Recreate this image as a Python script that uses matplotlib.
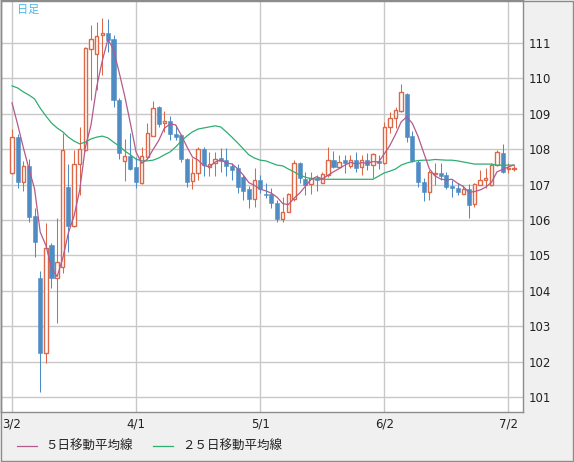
import matplotlib
matplotlib.use('Agg')
import matplotlib.pyplot as plt
import numpy as np
import pandas as pd
from matplotlib.lines import Line2D
from matplotlib.patches import Rectangle

# ---------------- data ----------------
dates = pd.bdate_range('2020-03-02', '2020-07-03')

opens = [107.33, 108.34, 107.07, 107.53, 106.10, 104.36, 102.24, 105.29, 104.36, 104.67,
         106.93, 105.83, 107.58, 107.98, 110.83, 110.69, 111.23, 111.28, 111.11, 109.39,
         107.67, 107.81, 107.50, 107.05, 107.78, 108.37, 109.19, 108.74, 108.80, 108.43,
         108.40, 107.72, 107.10, 107.33, 108.00, 107.50, 107.61, 107.75, 107.69, 107.53,
         107.47, 107.21, 106.88, 106.59, 107.13, 106.73, 106.73, 106.48, 106.03, 106.23,
         106.59, 107.61, 107.16, 107.02, 107.19, 107.05, 107.27, 107.69, 107.50, 107.69,
         107.53, 107.69, 107.50, 107.69, 107.55, 107.67, 107.61, 108.63, 108.88, 109.08,
         109.56, 108.37, 107.64, 107.07, 106.79, 107.30, 107.33, 107.27, 106.96, 106.90,
         106.73, 106.88, 106.45, 106.99, 107.13, 106.99, 107.55, 107.89, 107.44, 107.44]
highs = [108.57, 108.43, 107.67, 107.72, 106.34, 104.56, 105.92, 105.35, 106.06, 108.46,
         107.58, 107.98, 108.63, 110.90, 111.50, 111.59, 111.70, 111.68, 111.23, 109.45,
         108.29, 108.46, 107.78, 108.06, 108.74, 109.36, 109.22, 109.08, 108.94, 108.68,
         108.43, 107.75, 107.75, 108.06, 108.06, 107.92, 107.92, 108.03, 108.03, 107.61,
         107.58, 107.27, 106.96, 107.47, 107.27, 107.05, 106.90, 106.56, 106.65, 106.76,
         107.69, 107.64, 107.36, 107.36, 107.27, 107.36, 108.06, 107.95, 107.84, 107.84,
         107.84, 107.92, 107.84, 107.89, 107.89, 107.84, 108.77, 109.05, 109.19, 109.84,
         109.59, 108.51, 107.69, 107.19, 107.41, 107.61, 107.61, 107.36, 107.13, 107.05,
         107.00, 107.02, 107.05, 107.41, 107.47, 107.61, 107.98, 108.15, 107.61, 107.55]
lows = [107.30, 106.90, 106.82, 105.94, 104.95, 101.14, 101.96, 104.08, 103.09, 104.50,
        105.10, 105.80, 106.71, 107.95, 109.40, 109.67, 110.10, 110.75, 109.19, 107.72,
        107.10, 107.41, 106.90, 107.02, 107.78, 108.37, 108.63, 108.49, 108.26, 108.26,
        107.64, 106.93, 106.88, 107.13, 107.24, 107.24, 107.24, 107.36, 107.24, 107.13,
        106.76, 106.56, 106.34, 106.37, 106.76, 106.62, 106.34, 105.94, 105.94, 106.23,
        106.54, 107.05, 106.71, 106.73, 106.82, 107.05, 107.21, 107.47, 107.47, 107.33,
        107.47, 107.36, 107.27, 107.41, 107.19, 107.44, 107.58, 108.46, 108.60, 109.05,
        108.20, 107.64, 106.93, 106.54, 106.56, 106.99, 107.13, 106.88, 106.65, 106.71,
        106.73, 106.06, 106.37, 106.99, 106.90, 106.96, 107.52, 107.33, 107.33, 107.38]
closes = [108.34, 107.07, 107.53, 106.08, 105.38, 102.24, 105.21, 104.36, 104.81, 107.98,
          105.83, 107.58, 108.00, 110.86, 111.11, 111.20, 111.28, 111.08, 109.39, 107.89,
          107.81, 107.44, 107.07, 107.81, 108.46, 109.16, 108.71, 108.80, 108.43, 108.34,
          107.72, 107.07, 107.33, 108.00, 107.55, 107.58, 107.72, 107.67, 107.53, 107.41,
          106.93, 106.82, 106.59, 107.13, 106.88, 106.70, 106.48, 106.03, 106.23, 106.73,
          107.61, 107.19, 106.99, 107.19, 107.13, 107.30, 107.69, 107.50, 107.64, 107.61,
          107.69, 107.47, 107.69, 107.55, 107.86, 107.61, 108.63, 108.88, 109.11, 109.62,
          108.34, 107.67, 107.07, 106.79, 107.36, 107.33, 107.24, 106.93, 106.90, 106.79,
          106.88, 106.42, 107.02, 107.13, 107.19, 107.55, 107.92, 107.36, 107.47, 107.47]

# first four 5-day MA values (depend on data before the window)
ma5_first = [109.31, 108.70, 108.05, 107.45]

ma25 = [109.79, 109.73, 109.62, 109.53, 109.42, 109.16, 108.94, 108.74, 108.60, 108.49,
        108.34, 108.23, 108.15, 108.20, 108.29, 108.34, 108.37, 108.32, 108.20, 108.09,
        107.95, 107.84, 107.72, 107.67, 107.67, 107.69, 107.75, 107.84, 107.92, 108.06,
        108.23, 108.37, 108.49, 108.57, 108.60, 108.63, 108.66, 108.63, 108.49, 108.34,
        108.18, 108.01, 107.84, 107.75, 107.69, 107.67, 107.61, 107.55, 107.53, 107.44,
        107.36, 107.27, 107.21, 107.17, 107.15, 107.15, 107.15, 107.15, 107.15, 107.15,
        107.15, 107.15, 107.15, 107.15, 107.15, 107.24, 107.33, 107.38, 107.44, 107.55,
        107.61, 107.65, 107.68, 107.69, 107.69, 107.71, 107.70, 107.69, 107.69, 107.67,
        107.64, 107.61, 107.58, 107.58, 107.58, 107.58, 107.55, 107.55, 107.55, 107.55]

xtick_labels = ['3/2', '4/1', '5/1', '6/2', '7/2']
ytick_values = [101, 102, 103, 104, 105, 106, 107, 108, 109, 110, 111]
title_text = '日足'
legend_labels = ['５日移動平均線', '２５日移動平均線']

# ---------------- styling ----------------
RED = '#dc6848'
BLUE = '#4f8cc4'
PINK = '#b45a8c'
GREEN = '#2fae72'
GRID = '#c8c8c8'
BG = '#f0f0f0'
plt.rcParams['font.family'] = ['Noto Sans CJK JP', 'DejaVu Sans']

W, H = 574, 462
fig = plt.figure(figsize=(W / 100, H / 100), dpi=100, facecolor=BG)
ax = fig.add_axes([1 / W, (H - 412) / H, 522 / W, 412 / H])
ax.set_facecolor('white')

o = np.array(opens); h = np.array(highs); l = np.array(lows); c = np.array(closes)
n = len(c)
x = np.arange(n)
ma5 = pd.Series(c).rolling(5).mean().to_numpy()
ma5[:4] = ma5_first

up = c >= o
blo = np.minimum(o, c)
bhi = np.maximum(o, c)
bh = np.maximum(bhi - blo, 0.025)

lw1 = 0.75
ax.vlines(x[up], bhi[up], h[up], color=RED, lw=lw1, zorder=3)
ax.vlines(x[up], l[up], blo[up], color=RED, lw=lw1, zorder=3)
ax.vlines(x[~up], l[~up], h[~up], color=BLUE, lw=lw1, zorder=3)
ax.bar(x[up], bh[up], bottom=blo[up], width=0.6, facecolor='white',
       edgecolor=RED, linewidth=1.0, zorder=4)
ax.bar(x[~up], bh[~up], bottom=blo[~up], width=0.72, facecolor=BLUE,
       edgecolor=BLUE, linewidth=0.4, zorder=4)

ax.plot(x, ma25, color=GREEN, lw=0.9, zorder=5)
ax.plot(x, ma5, color=PINK, lw=0.9, zorder=6)

# axes limits (pixel mapping of the reference)
ax.set_xlim((1 - 12) / 5.64, (523 - 12) / 5.64)
ax.set_ylim(101 - 15 / 35.4, 101 + 397 / 35.4)

date_labels = [f'{d.month}/{d.day}' for d in dates]
xt = [date_labels.index(s) for s in xtick_labels]
ax.set_xticks(xt)
ax.set_xticklabels(xtick_labels, fontsize=8.5, family='DejaVu Sans', color='#222222')
ax.set_yticks(ytick_values)
ax.set_yticklabels([str(v) for v in ytick_values], fontsize=8.5, family='DejaVu Sans',
                   color='#222222')
ax.yaxis.tick_right()
ax.tick_params(axis='both', length=0)
ax.tick_params(axis='y', pad=4)
ax.tick_params(axis='x', pad=4)
ax.grid(True, color=GRID, lw=1.0, zorder=0)
ax.set_axisbelow(True)
for s in ax.spines.values():
    s.set_color('#8c8c8c')
    s.set_linewidth(1.0)
ax.spines['left'].set_color('#707070')

# title
ax.text(16 / 522, 1 - 10 / 412, title_text, transform=ax.transAxes, fontsize=8,
        color='#48b8ec', va='center', ha='left')

# legend
ly = 1 - 446 / H
fig.add_artist(Line2D([17 / W, 37 / W], [ly, ly], color=PINK, lw=0.9))
fig.text(45 / W, ly, legend_labels[0], fontsize=9, va='center', ha='left', color='#222222')
fig.add_artist(Line2D([153 / W, 173 / W], [ly, ly], color=GREEN, lw=0.9))
fig.text(182 / W, ly, legend_labels[1], fontsize=9, va='center', ha='left', color='#222222')

# outer frame
fig.add_artist(Rectangle((0.5 / W, 1.5 / H), (W - 2) / W, (H - 2) / H,
                         transform=fig.transFigure, fill=False,
                         edgecolor='#8c8c8c', lw=1.0))

fig.savefig('out.png', dpi=100, facecolor=BG)
